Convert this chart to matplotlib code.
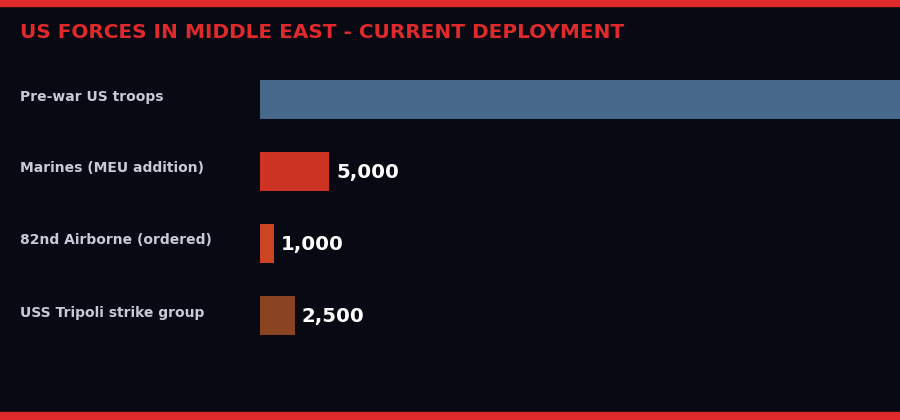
import matplotlib
matplotlib.use("Agg")
import matplotlib.pyplot as plt
from matplotlib.transforms import blended_transform_factory, offset_copy

categories = ["Pre-war US troops", "Marines (MEU addition)", "82nd Airborne (ordered)", "USS Tripoli strike group"]
values = [50000, 5000, 1000, 2500]
value_labels = ["50,000", "5,000", "1,000", "2,500"]
colors = ["#46688a", "#cc3322", "#cc4422", "#8a4422"]
title = "US FORCES IN MIDDLE EAST - CURRENT DEPLOYMENT"

BG = "#080912"
RED = "#e0292b"

W, H = 900, 420
fig = plt.figure(figsize=(9, 4.2), dpi=100, facecolor=BG)

# top and bottom red stripes
fig.add_artist(plt.Rectangle((0, 1 - 6 / H), 1, 6 / H, transform=fig.transFigure, color=RED, zorder=5))
fig.add_artist(plt.Rectangle((0, 0), 1, 8 / H, transform=fig.transFigure, color=RED, zorder=5))

fig.text(20 / W, 1 - 33 / H, title, color=RED, fontsize=14.4, fontweight="bold",
         family=["DejaVu Sans"], ha="left", va="center")

ax_top, ax_bot = 63.5, 351.5
ax = fig.add_axes([260 / W, 1 - ax_bot / H, 640 / W, (ax_bot - ax_top) / H])
ax.set_facecolor(BG)
for s in ax.spines.values():
    s.set_visible(False)
ax.set_xticks([])
ax.set_yticks([])

ypos = list(range(len(categories)))
ax.barh(ypos, values, height=39 / 72, color=colors, edgecolor="none")
ax.set_ylim(len(categories) - 0.5, -0.5)
xmax = 640 / (69 / 5000)
ax.set_xlim(0, xmax)

lab_tr = offset_copy(blended_transform_factory(fig.transFigure, ax.transData), fig=fig, x=0, y=3, units="dots")
val_tr = offset_copy(ax.transData, fig=fig, x=7, y=-1, units="dots")
for y, c, v, vl in zip(ypos, categories, values, value_labels):
    fig.text(20 / W, y, c, transform=lab_tr, color="#c8c8d8", fontsize=10, fontweight="bold",
             ha="left", va="center")
    if v < xmax * 0.8:  # the label of the long bar falls outside the visible area
        ax.text(v, y, vl, transform=val_tr, color="white", fontsize=14.2, fontweight="bold",
                ha="left", va="center")

fig.savefig("out.png", dpi=100, facecolor=BG)
